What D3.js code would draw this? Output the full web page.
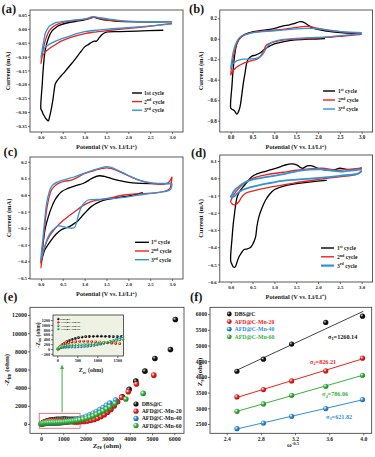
<!DOCTYPE html>
<html><head><meta charset="utf-8">
<script src="https://cdnjs.cloudflare.com/ajax/libs/d3/7.8.5/d3.min.js"></script>
<style>
body{margin:0;background:#fff}
svg text{font-family:"Liberation Serif","Times New Roman",serif;font-weight:bold;fill:#1a1a1a}
</style></head><body>
<svg id="fig" width="375" height="457"></svg>
<script>
// ---- data ----
var cycleColors = ["#000000", "#f0201c", "#2f93d8"];
var cvXTicks = [0, 0.5, 1, 1.5, 2, 2.5, 3];

// (a) CV, DBS@C
var cvA1 = [[2.8,-0.005],[2.2,-0.008],[1.8,-0.01],[1.5,-0.012],[1.4,-0.02],[1.32,-0.035],[1.27,-0.044],[1.2,-0.045],[1.1,-0.055],[1.0,-0.065],[0.9,-0.085],[0.77,-0.112],[0.65,-0.135],[0.55,-0.154],[0.45,-0.172],[0.38,-0.185],[0.33,-0.198],[0.3,-0.225],[0.27,-0.26],[0.23,-0.295],[0.19,-0.322],[0.17,-0.332],[0.12,-0.325],[0.06,-0.31],[0.02,-0.295],[0.0,-0.29],[0.03,-0.2],[0.06,-0.13],[0.1,-0.075],[0.17,-0.034],[0.25,-0.008],[0.35,0.006],[0.45,0.014],[0.62,0.022],[0.8,0.027],[0.95,0.031],[1.1,0.037],[1.2,0.042],[1.3,0.038],[1.45,0.032],[1.7,0.028],[2.0,0.026],[2.5,0.025],[3.0,0.026]];
var cvA2 = [[3.0,0.02],[2.6,0.012],[2.3,0.006],[1.9,0.0],[1.53,-0.006],[1.2,-0.012],[1.0,-0.017],[0.8,-0.025],[0.62,-0.034],[0.45,-0.045],[0.32,-0.058],[0.2,-0.07],[0.09,-0.085],[0.03,-0.1],[0.0,-0.125],[0.02,-0.1],[0.05,-0.076],[0.09,-0.048],[0.13,-0.028],[0.18,-0.01],[0.24,0.002],[0.32,0.012],[0.4,0.018],[0.55,0.025],[0.77,0.03],[1.0,0.034],[1.15,0.039],[1.22,0.042],[1.35,0.037],[1.53,0.032],[1.9,0.027],[2.4,0.026],[3.0,0.026]];
var cvA3 = [[3.0,0.018],[2.6,0.012],[2.3,0.008],[1.9,0.003],[1.53,-0.001],[1.2,-0.006],[1.0,-0.01],[0.8,-0.018],[0.62,-0.028],[0.45,-0.037],[0.3,-0.047],[0.2,-0.055],[0.1,-0.066],[0.04,-0.08],[0.0,-0.105],[0.02,-0.085],[0.04,-0.064],[0.07,-0.04],[0.1,-0.016],[0.15,0.0],[0.2,0.01],[0.28,0.018],[0.36,0.023],[0.55,0.028],[0.77,0.032],[1.0,0.036],[1.2,0.044],[1.35,0.04],[1.53,0.036],[1.9,0.029],[2.4,0.026],[3.0,0.026]];
var cvAYTicks = [0.05, 0, -0.05, -0.1, -0.15, -0.2, -0.25, -0.3, -0.35];

// (b) CV, AFD@C-Mn-20
var cvB1 = [[2.16,0.0],[1.8,-0.005],[1.43,-0.013],[1.2,-0.03],[1.0,-0.05],[0.9,-0.07],[0.78,-0.1],[0.67,-0.14],[0.57,-0.16],[0.48,-0.17],[0.4,-0.2],[0.36,-0.25],[0.33,-0.33],[0.29,-0.43],[0.25,-0.56],[0.21,-0.67],[0.17,-0.72],[0.14,-0.735],[0.08,-0.7],[0.02,-0.685],[0.0,-0.675],[0.03,-0.45],[0.06,-0.28],[0.1,-0.13],[0.14,-0.05],[0.2,0.0],[0.29,0.036],[0.4,0.055],[0.52,0.069],[0.7,0.08],[0.9,0.092],[1.05,0.105],[1.2,0.125],[1.35,0.135],[1.45,0.148],[1.59,0.167],[1.65,0.165],[1.72,0.148],[1.8,0.125],[1.9,0.1],[2.2,0.075],[2.58,0.058],[3.0,0.052]];
var cvB2 = [[3.0,0.043],[2.58,0.026],[2.2,0.012],[1.82,0.003],[1.5,-0.005],[1.2,-0.013],[1.0,-0.03],[0.82,-0.062],[0.75,-0.12],[0.67,-0.177],[0.6,-0.2],[0.52,-0.21],[0.4,-0.225],[0.29,-0.24],[0.18,-0.265],[0.1,-0.29],[0.04,-0.32],[0.0,-0.355],[0.03,-0.25],[0.06,-0.177],[0.1,-0.1],[0.14,-0.046],[0.2,0.0],[0.29,0.03],[0.4,0.05],[0.52,0.062],[0.75,0.075],[1.05,0.085],[1.3,0.098],[1.5,0.11],[1.7,0.12],[1.82,0.118],[2.0,0.1],[2.2,0.085],[2.6,0.065],[3.0,0.052]];
var cvB3 = [[3.0,0.05],[2.58,0.033],[2.2,0.018],[1.82,0.01],[1.5,0.003],[1.2,-0.007],[1.0,-0.025],[0.9,-0.046],[0.82,-0.09],[0.75,-0.144],[0.68,-0.175],[0.6,-0.19],[0.45,-0.198],[0.29,-0.2],[0.18,-0.21],[0.1,-0.226],[0.04,-0.25],[0.0,-0.29],[0.03,-0.2],[0.05,-0.144],[0.09,-0.08],[0.12,-0.046],[0.18,0.0],[0.25,0.026],[0.38,0.045],[0.52,0.059],[0.75,0.07],[1.05,0.079],[1.3,0.088],[1.5,0.095],[1.7,0.1],[1.9,0.1],[2.1,0.09],[2.27,0.079],[2.6,0.066],[3.0,0.059]];
var cvBYTicks = [0.2, 0, -0.2, -0.4, -0.6, -0.8];

// (c) CV, AFD@C-Mn-40
var cvC1 = [[2.33,0.014],[2.1,0.0],[1.91,-0.01],[1.7,-0.018],[1.53,-0.026],[1.35,-0.04],[1.15,-0.07],[1.0,-0.11],[0.93,-0.13],[0.85,-0.155],[0.77,-0.17],[0.65,-0.19],[0.55,-0.2],[0.45,-0.212],[0.35,-0.235],[0.24,-0.27],[0.15,-0.305],[0.09,-0.33],[0.04,-0.37],[0.0,-0.41],[0.03,-0.33],[0.05,-0.29],[0.1,-0.2],[0.17,-0.13],[0.25,-0.07],[0.32,-0.03],[0.4,0.0],[0.47,0.02],[0.6,0.038],[0.77,0.054],[0.9,0.064],[1.0,0.074],[1.1,0.09],[1.2,0.105],[1.34,0.116],[1.45,0.112],[1.53,0.106],[1.7,0.092],[1.91,0.08],[2.1,0.073],[2.29,0.07],[2.67,0.068],[3.0,0.07]];
var cvC2 = [[3.0,0.11],[2.98,0.07],[2.95,0.04],[2.9,0.03],[2.67,0.014],[2.3,0.008],[1.91,0.0],[1.53,-0.02],[1.3,-0.03],[1.15,-0.04],[1.0,-0.058],[0.93,-0.07],[0.8,-0.095],[0.62,-0.13],[0.5,-0.155],[0.4,-0.18],[0.3,-0.21],[0.24,-0.23],[0.15,-0.27],[0.09,-0.31],[0.04,-0.36],[0.0,-0.44],[0.03,-0.35],[0.05,-0.29],[0.09,-0.18],[0.13,-0.09],[0.18,-0.02],[0.24,0.03],[0.32,0.055],[0.4,0.07],[0.55,0.083],[0.7,0.09],[0.85,0.108],[1.0,0.13],[1.15,0.142],[1.3,0.154],[1.5,0.164],[1.6,0.16],[1.76,0.146],[1.95,0.122],[2.14,0.1],[2.35,0.08],[2.52,0.07],[2.82,0.066],[2.92,0.075],[3.0,0.11]];
var cvC3 = [[3.0,0.07],[2.99,0.05],[2.97,0.035],[2.9,0.025],[2.82,0.02],[2.52,0.01],[2.2,-0.002],[1.91,-0.014],[1.6,-0.022],[1.38,-0.026],[1.2,-0.028],[1.08,-0.03],[1.0,-0.045],[0.93,-0.07],[0.87,-0.11],[0.81,-0.17],[0.77,-0.195],[0.72,-0.2],[0.62,-0.198],[0.5,-0.19],[0.4,-0.186],[0.32,-0.2],[0.24,-0.22],[0.15,-0.26],[0.09,-0.31],[0.04,-0.35],[0.0,-0.39],[0.03,-0.3],[0.05,-0.25],[0.09,-0.14],[0.13,-0.05],[0.18,0.01],[0.24,0.05],[0.32,0.07],[0.4,0.08],[0.55,0.093],[0.77,0.11],[0.95,0.128],[1.15,0.146],[1.3,0.158],[1.46,0.17],[1.55,0.17],[1.61,0.166],[1.75,0.15],[1.91,0.13],[2.1,0.105],[2.29,0.086],[2.5,0.075],[2.67,0.07],[3.0,0.07]];
var cvCYTicks = [0.2, 0.1, 0, -0.1, -0.2, -0.3, -0.4, -0.5];

// (d) CV, AFD@C-Mn-60
var cvD1 = [[2.2,-0.012],[1.94,-0.018],[1.6,-0.028],[1.3,-0.04],[1.1,-0.055],[0.99,-0.068],[0.9,-0.09],[0.8,-0.126],[0.72,-0.17],[0.65,-0.22],[0.6,-0.28],[0.57,-0.34],[0.52,-0.375],[0.46,-0.4],[0.38,-0.41],[0.3,-0.415],[0.24,-0.435],[0.19,-0.455],[0.14,-0.49],[0.1,-0.515],[0.06,-0.515],[0.03,-0.5],[0.0,-0.48],[0.03,-0.35],[0.06,-0.26],[0.08,-0.22],[0.11,-0.16],[0.15,-0.106],[0.22,-0.07],[0.3,-0.045],[0.4,-0.015],[0.49,0.01],[0.6,0.025],[0.72,0.035],[0.85,0.045],[1.03,0.058],[1.15,0.068],[1.25,0.077],[1.4,0.083],[1.52,0.076],[1.6,0.062],[1.65,0.058],[1.75,0.072],[1.86,0.072],[2.0,0.058],[2.09,0.052],[2.25,0.047],[2.39,0.05],[2.5,0.058],[2.6,0.055],[2.77,0.048],[2.9,0.052],[3.0,0.06]];
var cvD2 = [[3.0,0.045],[2.93,0.028],[2.85,0.02],[2.54,0.01],[2.2,0.0],[1.94,-0.01],[1.5,-0.025],[1.18,-0.04],[0.9,-0.052],[0.65,-0.064],[0.45,-0.077],[0.34,-0.087],[0.25,-0.11],[0.19,-0.135],[0.12,-0.152],[0.08,-0.155],[0.03,-0.148],[0.0,-0.135],[0.02,-0.12],[0.06,-0.1],[0.12,-0.078],[0.19,-0.058],[0.3,-0.03],[0.42,-0.01],[0.6,0.008],[0.8,0.02],[1.2,0.035],[1.56,0.048],[1.8,0.054],[2.09,0.058],[2.3,0.052],[2.47,0.045],[2.6,0.05],[2.75,0.053],[3.0,0.058]];
var cvD3 = [[3.0,0.04],[2.9,0.025],[2.7,0.02],[2.3,0.008],[1.94,0.0],[1.5,-0.008],[1.18,-0.015],[0.85,-0.03],[0.57,-0.045],[0.4,-0.056],[0.27,-0.068],[0.15,-0.088],[0.08,-0.106],[0.03,-0.11],[0.0,-0.106],[0.02,-0.1],[0.06,-0.08],[0.12,-0.062],[0.19,-0.048],[0.3,-0.028],[0.42,-0.014],[0.6,-0.002],[0.8,0.006],[1.2,0.024],[1.56,0.043],[1.8,0.05],[2.09,0.052],[2.3,0.045],[2.54,0.039],[2.75,0.045],[3.0,0.052]];
var cvDYTicks = [0.1, 0, -0.1, -0.2, -0.3, -0.4, -0.5, -0.6];

// (e) Nyquist, [Zre, -Zim]
var sampleNames = ["DBS@C", "AFD@C-Mn-20", "AFD@C-Mn-40", "AFD@C-Mn-60"];
var sampleColors = ["#111111", "#f0201c", "#2f8fd6", "#35b43c"];
var eisDBS = [[30,10],[60,60],[90,120],[130,180],[180,240],[240,300],[300,350],[370,400],[450,440],[530,470],[620,495],[710,510],[800,520],[900,528],[1000,532],[1100,532],[1200,528],[1300,520],[1400,512],[1500,512],[1600,525],[1700,550],[1850,610],[2000,690],[2200,820],[2400,980],[2600,1180],[2800,1420],[3000,1700],[3200,2050],[3400,2480],[3660,3000],[3970,3810],[4270,4720],[4680,5820],[5130,7220],[5830,8200],[6050,11500]];
var eisMn20 = [[20,0],[40,40],[70,90],[110,140],[160,190],[220,230],[290,265],[370,290],[460,305],[560,315],[660,318],[760,315],[860,308],[960,298],[1060,285],[1160,270],[1260,255],[1360,240],[1460,228],[1560,220],[1660,225],[1800,240],[1950,270],[2100,320],[2250,400],[2400,500],[2550,640],[2700,820],[2850,1030],[3000,1300],[3150,1600],[3300,2000],[3450,2450],[3630,2930],[3930,3550],[4300,4400],[5080,5380]];
var eisMn40 = [[10,0],[30,20],[60,40],[100,55],[150,65],[210,72],[280,76],[360,78],[440,80],[520,85],[600,92],[680,100],[760,112],[840,128],[920,148],[1000,172],[1080,200],[1160,232],[1240,270],[1320,312],[1400,358],[1480,405],[1560,455],[1640,510],[1750,590],[1900,710],[2050,850],[2200,1010],[2350,1190],[2500,1380],[2650,1590],[2800,1810],[2950,2050],[3100,2300],[3360,2640]];
var eisMn60 = [[10,0],[30,30],[60,60],[100,90],[150,115],[210,135],[280,150],[360,160],[440,165],[520,170],[600,175],[680,182],[760,190],[840,200],[920,212],[1000,225],[1080,240],[1160,258],[1240,278],[1320,300],[1400,325],[1480,350],[1560,378],[1640,408],[1750,460],[1900,540],[2050,640],[2200,760],[2350,900],[2500,1060],[2650,1240],[2800,1440],[2950,1660],[3100,1900],[3330,2270],[3820,2750],[4600,3370]];
var eisXTicks = [0, 1000, 2000, 3000, 4000, 5000, 6000];
var eisYTicks = [0, 2000, 4000, 6000, 8000, 10000, 12000];
var insetXTicks = [0, 500, 1000, 1500];
var insetYTicks = [-200, 0, 200, 400, 600, 800, 1000, 1200];

// (f) Zre vs omega^-0.5
var omegaInv = [2.52, 2.83, 3.16, 3.56, 3.99];
var zreDBS = [4180, 4565, 5045, 5735, 5935];
var zreMn20 = [3362, 3596, 3872, 4191, 4596];
var zreMn40 = [2351, 2532, 2745, 2990, 3277];
var zreMn60 = [2904, 3138, 3415, 3702, 4053];
var sigmaLabels = ["1260.14", "826.21", "621.82", "786.06"];
var fXTicks = [2.4, 2.8, 3.2, 3.6, 4.0];
var fYTicks = [2500, 3000, 3500, 4000, 4500, 5000, 5500, 6000];

// ---- drawing ----
var svg = d3.select("#fig");
var defs = svg.append("defs");
sampleColors.forEach(function(c, i){
  var gr = defs.append("radialGradient").attr("id", "ball" + i)
      .attr("cx", "35%").attr("cy", "35%").attr("r", "70%");
  gr.append("stop").attr("offset", "0%").attr("stop-color", i == 0 ? "#cfcfcf" : "#ffffff");
  gr.append("stop").attr("offset", "45%").attr("stop-color", c);
  gr.append("stop").attr("offset", "100%").attr("stop-color", d3.color(c).darker(1.2));
});

function rich(t, parts, fs){
  var shift = 0;
  parts.forEach(function(p){
    var d = p[1] == "sup" ? -fs*0.38 : p[1] == "sub" ? fs*0.28 : 0;
    t.append("tspan").attr("dy", d - shift).attr("font-size", p[1] ? fs*0.72 : fs).text(p[0]);
    shift = d;
  });
  return t;
}

function axes(x, y, xt, yt, fx, fy, fs){
  var b = y.range()[0], l = x.range()[0];
  var gx = svg.append("g").attr("transform", "translate(0," + b + ")")
      .call(d3.axisBottom(x).tickValues(xt).tickFormat(fx).tickSize(2).tickSizeOuter(0).tickPadding(1.5));
  var gy = svg.append("g").attr("transform", "translate(" + l + ",0)")
      .call(d3.axisLeft(y).tickValues(yt).tickFormat(fy).tickSize(2).tickSizeOuter(0).tickPadding(1));
  [gx, gy].forEach(function(g){
    g.select(".domain").remove();
    g.selectAll("line").attr("stroke", "#333").attr("stroke-width", 0.7);
    g.selectAll("text").attr("font-size", fs).attr("fill", "#1a1a1a")
      .attr("font-family", '"Liberation Serif","Times New Roman",serif').attr("font-weight", "bold");
  });
  svg.append("rect").attr("x", l).attr("y", y.range()[1])
    .attr("width", x.range()[1] - l).attr("height", b - y.range()[1])
    .attr("fill", "none").attr("stroke", "#333").attr("stroke-width", 0.8);
}

function panelLabel(txt, x, y){
  svg.append("text").attr("x", x).attr("y", y).attr("font-size", 12.5).text(txt);
}

function potentialTitle(cx, y){
  var t = svg.append("text").attr("x", cx).attr("y", y).attr("text-anchor", "middle");
  rich(t, [["Potential (V vs. Li/Li", ""], ["+", "sup"], [")", ""]], 6.3);
}

function currentTitle(x, cy){
  svg.append("text").attr("transform", "translate(" + x + "," + cy + ") rotate(-90)")
    .attr("text-anchor", "middle").attr("font-size", 6.5).text("Current (mA)");
}

var cvLine = d3.line().curve(d3.curveCatmullRom.alpha(0.5));

function cvPanel(p){
  var x = d3.scaleLinear().domain([-0.25, 3.25]).range([p.l, p.r]);
  var y = d3.scaleLinear().domain(p.yDom).range([p.b, p.t]);
  axes(x, y, cvXTicks, p.yTicks, d3.format(".1f"), d3.format(p.yFmt), p.fs);
  var fx = function(d){ return x(d[0]); }, fy = function(d){ return y(d[1]); };
  cvLine.x(fx).y(fy);
  p.series.forEach(function(s, i){
    svg.append("path").attr("d", cvLine(s)).attr("fill", "none")
      .attr("stroke", cycleColors[i]).attr("stroke-width", (p.blueW && i == 2) ? p.blueW : 1.3)
      .attr("stroke-linejoin", "round");
  });
  var names = [["1", "st", "  cycle"], ["2", "nd", " cycle"], ["3", "rd", " cycle"]];
  names.forEach(function(n, i){
    var ly = p.leg[2] + i * p.leg[3];
    svg.append("line").attr("x1", p.leg[0]).attr("x2", p.leg[0] + p.leg[4])
      .attr("y1", ly).attr("y2", ly).attr("stroke", cycleColors[i])
      .attr("stroke-width", (p.blueW && i == 2) ? 2.2 : 1.4);
    var t = svg.append("text").attr("x", p.leg[1]).attr("y", ly + 2);
    if (i == 0 && p.plainFirst) rich(t, [["1st  cycle", ""]], 5.6);
    else rich(t, [[n[0], ""], [n[1], "sup"], [n[2], ""]], 5.6);
  });
}

cvPanel({l: 30, r: 183, t: 10, b: 132, yDom: [-0.372, 0.068], yTicks: cvAYTicks, yFmt: ".2f", fs: 4.9,
  series: [cvA1, cvA2, cvA3], leg: [132, 144, 93, 8.6, 10], plainFirst: true});
cvPanel({l: 219.8, r: 372.6, t: 10, b: 132, yDom: [-0.91, 0.28], yTicks: cvBYTicks, yFmt: ".1f", fs: 5.1,
  series: [cvB1, cvB2, cvB3], leg: [323, 338, 91, 9, 12]});
cvPanel({l: 30, r: 183, t: 157, b: 279, yDom: [-0.506, 0.229], yTicks: cvCYTicks, yFmt: ".1f", fs: 4.9,
  series: [cvC1, cvC2, cvC3], leg: [135, 151, 242.3, 8.7, 14]});
cvPanel({l: 219.8, r: 372.6, t: 155, b: 282, yDom: [-0.602, 0.135], yTicks: cvDYTicks, yFmt: ".1f", fs: 4.9,
  series: [cvD1, cvD2, cvD3], leg: [321, 337, 248, 8.8, 13], blueW: 1.8});

panelLabel("(a)", 1.5, 12.5); panelLabel("(b)", 189, 12.5);
panelLabel("(c)", 3.5, 155.5); panelLabel("(d)", 191, 156.5);
panelLabel("(e)", 3.5, 300.5); panelLabel("(f)", 190, 300.5);
potentialTitle(106.5, 149); potentialTitle(296, 149);
potentialTitle(106.5, 296); potentialTitle(296, 298.5);
currentTitle(9.5, 71); currentTitle(202.5, 71);
currentTitle(10.5, 218); currentTitle(202.5, 218.5);

// (e) Nyquist
var eisSets = [eisDBS, eisMn20, eisMn40, eisMn60];
var ex = d3.scaleLinear().domain([-495, 6440]).range([30, 184]);
var ey = d3.scaleLinear().domain([-1024, 12850]).range([433.3, 307.3]);
axes(ex, ey, eisXTicks, eisYTicks, d3.format("d"), d3.format("d"), 6);

// red zoom box and green arrow
svg.append("rect").attr("x", ex(-80)).attr("y", ey(1170))
  .attr("width", ex(1760) - ex(-80)).attr("height", ey(-470) - ey(1170))
  .attr("fill", "none").attr("stroke", "#ee6a6a").attr("stroke-width", 0.9);
var arrowX = ex(950);
svg.append("line").attr("x1", arrowX).attr("x2", arrowX).attr("y1", ey(1170) - 1).attr("y2", 368)
  .attr("stroke", "#3cb043").attr("stroke-width", 1);
svg.append("path").attr("d", "M" + (arrowX - 2) + ",369 L" + arrowX + ",364.5 L" + (arrowX + 2) + ",369 Z")
  .attr("fill", "#3cb043");

eisSets.forEach(function(s, i){
  svg.append("g").selectAll("circle").data(s).enter().append("circle")
    .attr("cx", function(d){ return ex(d[0]); })
    .attr("cy", function(d){ return ey(d[1]); })
    .attr("r", 2.8).attr("fill", "url(#ball" + i + ")");
});

// inset
var ix = d3.scaleLinear().domain([-107, 1655]).range([53, 123.5]);
var iy = d3.scaleLinear().domain([-291, 1412]).range([356, 315]);
svg.append("rect").attr("x", 53).attr("y", 315).attr("width", 70.5).attr("height", 41)
  .attr("fill", "#edf2e3");
axes(ix, iy, insetXTicks, insetYTicks, d3.format("d"), d3.format("d"), 4.2);
eisSets.forEach(function(s, i){
  svg.append("g").selectAll("circle").data(s.filter(function(d){ return d[0] <= 1650; }))
    .enter().append("circle")
    .attr("cx", function(d){ return ix(d[0]); })
    .attr("cy", function(d){ return iy(d[1]); })
    .attr("r", 1.4).attr("fill", "url(#ball" + i + ")");
});
sampleNames.forEach(function(n, i){
  var ly = 319 + i * 3.35;
  svg.append("circle").attr("cx", 58.3).attr("cy", ly).attr("r", 1.2).attr("fill", "url(#ball" + i + ")");
  svg.append("text").attr("x", 60.3).attr("y", ly + 1).attr("font-size", 2.9).text(n);
});
rich(svg.append("text").attr("x", 91).attr("y", 372).attr("text-anchor", "middle"),
  [["Z", ""], ["re", "sub"], [" (ohm)", ""]], 6);
rich(svg.append("text").attr("transform", "translate(39.5,335) rotate(-90)").attr("text-anchor", "middle"),
  [["-Z", ""], ["im", "sub"], [" (ohm)", ""]], 5.5);

// main legend
sampleNames.forEach(function(n, i){
  var ly = 404 + i * 7.2;
  svg.append("circle").attr("cx", 136).attr("cy", ly).attr("r", 2.6).attr("fill", "url(#ball" + i + ")");
  svg.append("text").attr("x", 141.7).attr("y", ly + 2).attr("font-size", 5.8).text(n);
});
rich(svg.append("text").attr("x", 107).attr("y", 447.5).attr("text-anchor", "middle"),
  [["Z", ""], ["re", "sub"], [" (ohm)", ""]], 7);
rich(svg.append("text").attr("transform", "translate(9,370) rotate(-90)").attr("text-anchor", "middle"),
  [["-Z", ""], ["im", "sub"], [" (ohm)", ""]], 7);

// (f) linear fits
var zreSets = [zreDBS, zreMn20, zreMn40, zreMn60];
var fx = d3.scaleLinear().domain([2.2045, 4.098]).range([210, 371.7]);
var fy = d3.scaleLinear().domain([2204, 6217]).range([433.3, 307.3]);
axes(fx, fy, fXTicks, fYTicks, d3.format(".1f"), d3.format("d"), 5.6);

zreSets.forEach(function(ys, i){
  var mx = d3.mean(omegaInv), my = d3.mean(ys);
  var sxy = d3.sum(omegaInv, function(v, k){ return (v - mx) * (ys[k] - my); });
  var sxx = d3.sum(omegaInv, function(v){ return (v - mx) * (v - mx); });
  var k = sxy / sxx, c = my - k * mx;
  var x0 = omegaInv[0], x1 = omegaInv[omegaInv.length - 1] + 0.01;
  svg.append("line").attr("x1", fx(x0)).attr("x2", fx(x1))
    .attr("y1", fy(c + k * x0)).attr("y2", fy(c + k * x1))
    .attr("stroke", i == 0 ? "#444" : sampleColors[i]).attr("stroke-width", 1);
  svg.append("g").selectAll("circle").data(omegaInv).enter().append("circle")
    .attr("cx", function(v){ return fx(v); })
    .attr("cy", function(v, j){ return fy(ys[j]); })
    .attr("r", 2.6).attr("fill", "url(#ball" + i + ")");
});

sampleNames.forEach(function(n, i){
  var ly = 314 + i * 7.6;
  svg.append("circle").attr("cx", 229.3).attr("cy", ly).attr("r", 2.4).attr("fill", "url(#ball" + i + ")");
  svg.append("text").attr("x", 234.5).attr("y", ly + 2).attr("font-size", 5.8)
    .style("fill", sampleColors[i]).text(n);
});

var sigmaPos = [[328, 338.5], [310, 363.5], [326, 418.5], [322, 396]];
sigmaLabels.forEach(function(s, i){
  var t = svg.append("text").attr("x", sigmaPos[i][0]).attr("y", sigmaPos[i][1]).style("fill", sampleColors[i]);
  rich(t, [["\u03c3", ""], [String(i + 1), "sub"], ["=" + s, ""]], 6.2);
});
rich(svg.append("text").attr("x", 293).attr("y", 447).attr("text-anchor", "middle"),
  [["\u03c9", ""], ["-0.5", "sup"]], 6.5);
rich(svg.append("text").attr("transform", "translate(202,372) rotate(-90)").attr("text-anchor", "middle"),
  [["Z", ""], ["re", "sub"], [" (ohm)", ""]], 7);
</script></body></html>
